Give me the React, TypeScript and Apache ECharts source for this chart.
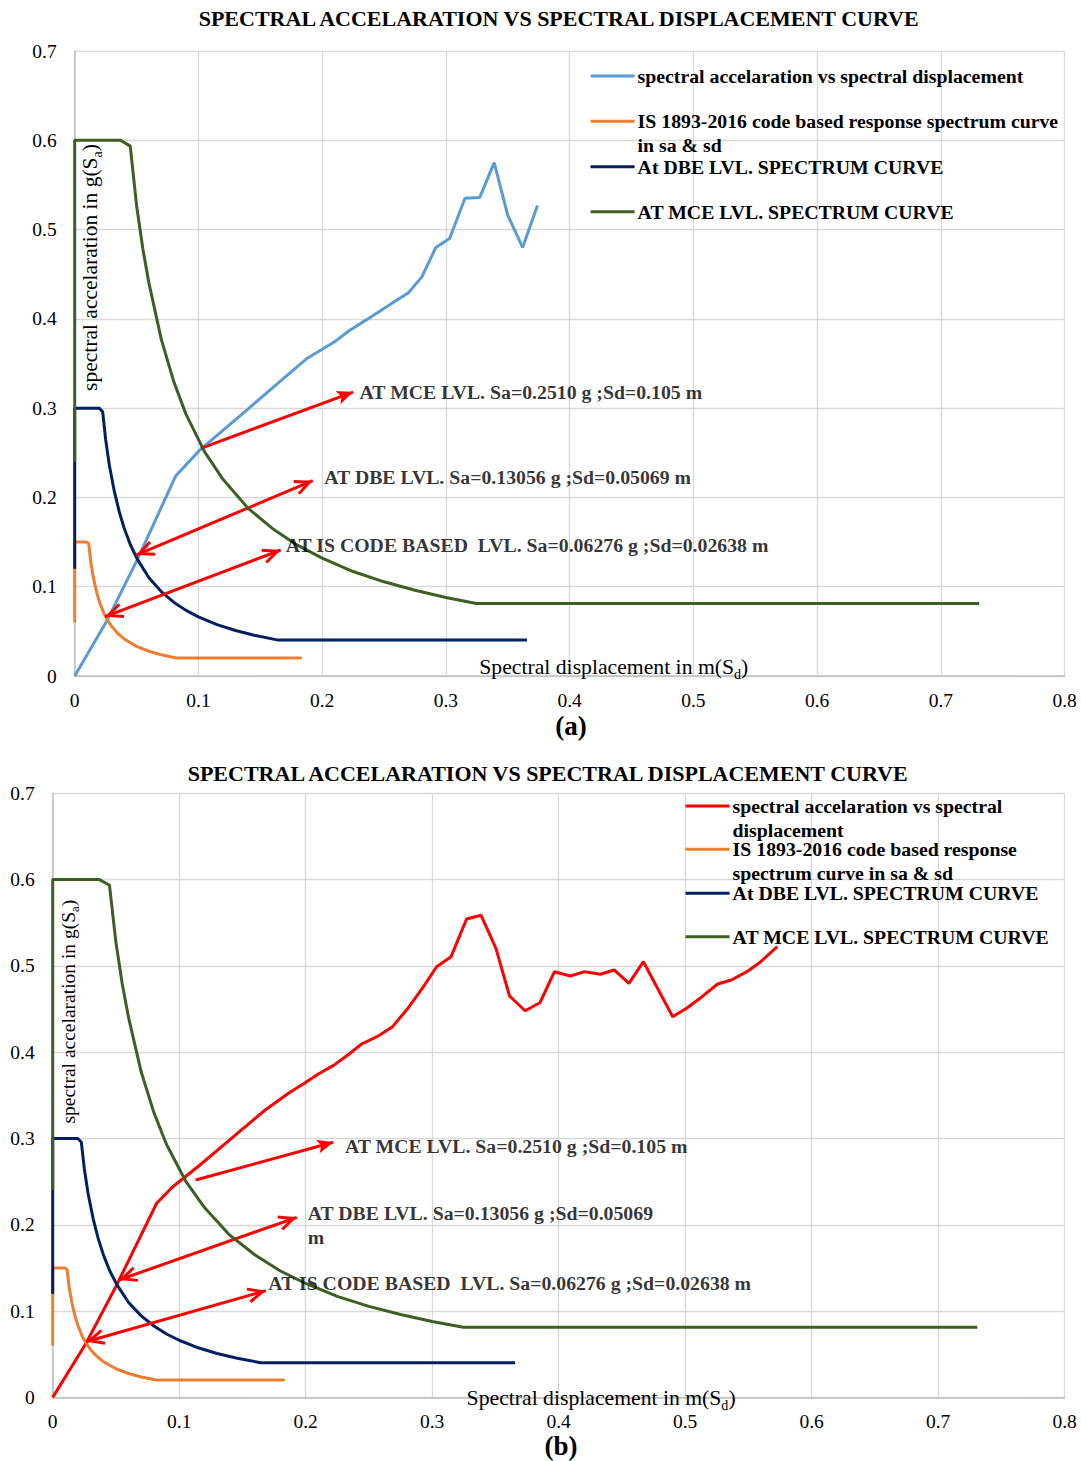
import React, { useEffect, useRef } from "react";
import * as echarts from "echarts";

type Pt = [number, number];

const FONT = "'Liberation Serif', 'Times New Roman', serif";

// ---------- data ----------
const TITLE = "SPECTRAL ACCELARATION VS SPECTRAL DISPLACEMENT CURVE";

const NAME_CAPACITY = "spectral accelaration vs spectral displacement";
const NAME_IS = "IS 1893-2016 code based response spectrum curve in sa & sd";
const NAME_DBE = "At DBE LVL. SPECTRUM CURVE";
const NAME_MCE = "AT MCE LVL. SPECTRUM CURVE";

// capacity curve, panel (a)
const CAPACITY_A: Pt[] = [
  [0, 0], [0.0264, 0.0628], [0.0507, 0.1306], [0.0816, 0.224], [0.101, 0.253],
  [0.14, 0.299], [0.187, 0.355], [0.2097, 0.374], [0.222, 0.387], [0.2347, 0.398],
  [0.258, 0.419], [0.2695, 0.429], [0.2806, 0.447], [0.2918, 0.48], [0.303, 0.49],
  [0.3154, 0.535], [0.3274, 0.536], [0.339, 0.575], [0.35, 0.516], [0.362, 0.48],
  [0.374, 0.527],
];

// capacity curve, panel (b)
const CAPACITY_B: Pt[] = [
  [0, 0], [0.0264, 0.0628], [0.0507, 0.1306], [0.0822, 0.225], [0.0945, 0.2435],
  [0.1162, 0.269], [0.146, 0.306], [0.168, 0.333], [0.187, 0.353], [0.199, 0.364],
  [0.21, 0.3747], [0.2224, 0.385], [0.2333, 0.3967], [0.2442, 0.4095], [0.2564, 0.418],
  [0.2687, 0.4296], [0.2809, 0.451], [0.2932, 0.476], [0.3035, 0.499], [0.315, 0.5107],
  [0.3272, 0.5543], [0.3387, 0.5586], [0.3504, 0.5204], [0.3612, 0.4651], [0.3735, 0.448],
  [0.3852, 0.4573], [0.3967, 0.4933], [0.4092, 0.4883], [0.4207, 0.4933], [0.433, 0.4903],
  [0.4439, 0.4953], [0.4556, 0.4798], [0.467, 0.5049], [0.4902, 0.4411], [0.5012, 0.4509],
  [0.5134, 0.4643], [0.5257, 0.479], [0.5366, 0.4837], [0.5489, 0.4933], [0.5598, 0.5049],
  [0.5729, 0.5223],
];

// IS 1893-2016 code spectrum
const IS_CURVE: Pt[] = [
  [0, 0.06], [0, 0.15], [0.0097, 0.15], [0.0114, 0.148], [0.013, 0.128], [0.015, 0.111],
  [0.0175, 0.095], [0.02, 0.083], [0.0235, 0.0705], [0.0264, 0.0628], [0.03, 0.0553],
  [0.035, 0.0474], [0.04, 0.0415], [0.05, 0.0332], [0.06, 0.0277], [0.07, 0.0237],
  [0.082, 0.0202], [0.1835, 0.0202],
];

// DBE level spectrum
const DBE_CURVE: Pt[] = [
  [0, 0.12], [0, 0.3], [0.0198, 0.3], [0.0226, 0.296], [0.025, 0.265], [0.028, 0.236],
  [0.032, 0.207], [0.036, 0.184], [0.04, 0.1655], [0.045, 0.147], [0.0507, 0.1306],
  [0.06, 0.11], [0.07, 0.0945], [0.08, 0.0827], [0.09, 0.0735], [0.1, 0.0662],
  [0.115, 0.0575], [0.13, 0.0509], [0.145, 0.0456], [0.1645, 0.0402], [0.3655, 0.0402],
];

// MCE level spectrum
const MCE_CURVE: Pt[] = [
  [0, 0.24], [0, 0.6], [0.037, 0.6], [0.0449, 0.5935], [0.05, 0.527], [0.055, 0.479],
  [0.06, 0.44], [0.07, 0.377], [0.08, 0.33], [0.09, 0.293], [0.105, 0.251], [0.12, 0.22],
  [0.14, 0.188], [0.16, 0.165], [0.18, 0.1465], [0.2, 0.132], [0.225, 0.117],
  [0.25, 0.1055], [0.275, 0.096], [0.3, 0.088], [0.3246, 0.0812], [0.731, 0.0812],
];

const TEXT_MCE = "AT MCE LVL. Sa=0.2510 g ;Sd=0.105 m";
const TEXT_DBE = "AT DBE LVL. Sa=0.13056 g ;Sd=0.05069 m";
const TEXT_DBE_B = "AT DBE LVL. Sa=0.13056 g ;Sd=0.05069\nm";
const TEXT_IS = "AT IS CODE BASED  LVL. Sa=0.06276 g ;Sd=0.02638 m";

// ---------- annotation anchors (data coordinates) ----------
type Ann = { text: string; at: Pt; from: Pt; to: Pt; both: boolean };

const ANN_A: Ann[] = [
  { text: TEXT_MCE, at: [0.2298, 0.3177], from: [0.102, 0.255], to: [0.225, 0.318], both: false },
  { text: TEXT_DBE, at: [0.2013, 0.2232], from: [0.0496, 0.1355], to: [0.1924, 0.2187], both: true },
  { text: TEXT_IS, at: [0.1701, 0.1467], from: [0.0245, 0.0664], to: [0.1665, 0.1411], both: true },
];

const ANN_B: Ann[] = [
  { text: TEXT_MCE, at: [0.2306, 0.2917], from: [0.113, 0.2519], to: [0.2218, 0.2956], both: false },
  { text: TEXT_DBE_B, at: [0.2012, 0.1998], from: [0.0523, 0.136], to: [0.193, 0.2087], both: true },
  { text: TEXT_IS, at: [0.1701, 0.1322], from: [0.0264, 0.0645], to: [0.1685, 0.1237], both: true },
];

// ---------- styles ----------
const CHEVRON = "path://M8,-18.5 M8,0 L16,17.2 L13.3,18.5 L8,7.1 L2.7,18.5 L0,17.2 Z";
const TRIANGLE = "path://M7,-16 M7,0 L14,16 L7,12.5 L0,16 Z";
const TEXT_SIZE = 19.8;

type Panel = {
  capacity: Pt[];
  capColor: string;
  capLabel: string;
  isLabel: string;
  ann: Ann[];
  grid: { left: number; top: number; width: number; height: number };
  titleLeft: number;
  titleY: number;
  legendLeft: number;
  legendY: number[];
  xName: { x: number; y: number; size: number };
  yName: { x: number; y: number; size: number };
  panelLabel: { text: string; x: number; y: number };
};

const PANEL_A: Panel = {
  capacity: CAPACITY_A,
  capColor: "#5B9BD5",
  capLabel: NAME_CAPACITY,
  isLabel: "IS 1893-2016 code based response spectrum curve\nin sa & sd",
  ann: ANN_A,
  grid: { left: 74.7, top: 51, width: 989.9, height: 625 },
  titleLeft: 198.7,
  titleY: 18.8,
  legendLeft: 590.6,
  legendY: [76, 121.3, 166.7, 211.7],
  xName: { x: 479.3, y: 666.7, size: 21.7 },
  yName: { x: 90, y: 267.5, size: 21.5 },
  panelLabel: { text: "(a)", x: 571, y: 726 },
};

const PANEL_B: Panel = {
  capacity: CAPACITY_B,
  capColor: "#FF0000",
  capLabel: "spectral accelaration vs spectral\ndisplacement",
  isLabel: "IS 1893-2016 code based response\nspectrum curve in sa & sd",
  ann: ANN_B,
  grid: { left: 52.7, top: 48.3, width: 1011.9, height: 604.1 },
  titleLeft: 187.7,
  titleY: 28.3,
  legendLeft: 685.6,
  legendY: [61, 104.3, 148.3, 191.7],
  xName: { x: 466.6, y: 652.7, size: 21.7 },
  yName: { x: 68, y: 266.7, size: 19.5 },
  panelLabel: { text: "(b)", x: 561, y: 701 },
};

function lineSeries(name: string, data: Pt[], color: string, z: number) {
  return {
    type: "line",
    name,
    data,
    showSymbol: false,
    symbol: "none",
    clip: false,
    silent: true,
    z,
    lineStyle: { color, width: 3 },
    itemStyle: { color },
    emphasis: { disabled: true },
  };
}

function richName(main: string, sub: string, tail: string, size: number) {
  return {
    text: `{n|${main}}{s|${sub}}{n|${tail}}`,
    rich: {
      n: { fontSize: size, fontFamily: FONT, lineHeight: size + 7, fill: "#000" },
      s: { fontSize: size * 0.65, fontFamily: FONT, lineHeight: size * 0.75, verticalAlign: "bottom", fill: "#000" },
    },
    fill: "#000",
  };
}

function buildOption(p: Panel) {
  const LH = 23.5;
  const legendItems = [
    { name: NAME_CAPACITY, label: p.capLabel },
    { name: NAME_IS, label: p.isLabel },
    { name: NAME_DBE, label: NAME_DBE },
    { name: NAME_MCE, label: NAME_MCE },
  ];
  const legends = legendItems.map((it, i) => {
    const lines = it.label.split("\n").length;
    // a blank leading line for wrapped labels keeps the icon level with the first line
    const shown = lines > 1 ? " \n" + it.label : it.label;
    const total = lines > 1 ? lines + 1 : 1;
    const H = total * LH;
    return {
      data: [it.name],
      left: p.legendLeft,
      top: p.legendY[i] - H / 2,
      orient: "vertical",
      padding: 0,
      icon: "rect",
      itemWidth: 44,
      itemHeight: 3,
      selectedMode: false,
      formatter: () => shown,
      textStyle: {
        fontFamily: FONT,
        fontWeight: "bold",
        fontSize: TEXT_SIZE,
        lineHeight: LH,
        color: "#000",
        padding: [0, 0, 0, -2],
      },
    };
  });

  const axisCommon = {
    type: "value",
    min: 0,
    interval: 0.1,
    axisTick: { show: false },
    axisLine: { show: true, onZero: false, lineStyle: { color: "#bfbfbf", width: 1.5 } },
    splitLine: { show: true, lineStyle: { color: "#d9d9d9", width: 1.3 } },
  };

  return {
    animation: false,
    backgroundColor: "#fff",
    title: {
      text: TITLE,
      left: p.titleLeft,
      top: p.titleY - 11,
      padding: 0,
      textStyle: { fontFamily: FONT, fontWeight: "bold", fontSize: 22, lineHeight: 22, color: "#000" },
    },
    legend: legends,
    grid: { ...p.grid, containLabel: false },
    xAxis: {
      ...axisCommon,
      max: 0.8,
      axisLabel: { fontFamily: FONT, fontSize: 19.5, color: "#000", margin: 14.5 },
    },
    yAxis: {
      ...axisCommon,
      max: 0.7,
      axisLabel: { fontFamily: FONT, fontSize: 19.5, color: "#000", margin: 18 },
    },
    graphic: [
      {
        type: "text",
        x: p.xName.x,
        y: p.xName.y,
        z: 20,
        style: { ...richName("Spectral displacement in m(S", "d", ")", p.xName.size), align: "left", verticalAlign: "middle" },
      },
      {
        type: "text",
        x: p.yName.x,
        y: p.yName.y,
        rotation: Math.PI / 2,
        z: 20,
        style: { ...richName("spectral accelaration in g(S", "a", ")", p.yName.size), align: "center", verticalAlign: "middle" },
      },
      {
        type: "text",
        x: p.panelLabel.x,
        y: p.panelLabel.y,
        z: 20,
        style: {
          text: p.panelLabel.text,
          fontFamily: FONT,
          fontWeight: "bold",
          fontSize: 27,
          fill: "#000",
          align: "center",
          verticalAlign: "middle",
        },
      },
    ],
    series: [
      lineSeries(NAME_CAPACITY, p.capacity, p.capColor, 2),
      lineSeries(NAME_IS, IS_CURVE, "#ED7D31", 3),
      lineSeries(NAME_DBE, DBE_CURVE, "#002060", 4),
      lineSeries(NAME_MCE, MCE_CURVE, "#3E5F24", 5),
      {
        type: "scatter",
        name: "annotations",
        silent: true,
        z: 8,
        symbolSize: 1,
        itemStyle: { color: "transparent" },
        data: p.ann.map((a) => ({ value: a.at, name: a.text })),
        label: {
          show: true,
          position: "right",
          distance: 0,
          formatter: "{b}",
          fontFamily: FONT,
          fontWeight: "bold",
          fontSize: TEXT_SIZE,
          lineHeight: 23.5,
          color: "#000",
          align: "left",
        },
        markLine: {
          silent: true,
          animation: false,
          label: { show: false },
          emphasis: { disabled: true },
          itemStyle: { color: "#ff0000" },
          lineStyle: { color: "#ff0000", width: 3, type: "solid" },
          data: p.ann.map((a) => [
            { coord: a.from, symbol: a.both ? CHEVRON : "none", symbolSize: [16, 37] },
            {
              coord: a.to,
              symbol: a.both ? CHEVRON : TRIANGLE,
              symbolSize: a.both ? [16, 37] : [14, 32],
            },
          ]),
        },
      },
    ],
  };
}

export default function App() {
  const refA = useRef<HTMLDivElement>(null);
  const refB = useRef<HTMLDivElement>(null);

  useEffect(() => {
    const pairs: [HTMLDivElement | null, Panel][] = [
      [refA.current, PANEL_A],
      [refB.current, PANEL_B],
    ];
    const charts = pairs.map(([el, p]) => {
      const c = echarts.init(el as HTMLDivElement, null, { renderer: "svg" });
      c.setOption(buildOption(p) as any);
      return c;
    });
    return () => charts.forEach((c) => c.dispose());
  }, []);

  return (
    <div style={{ position: "absolute", left: 0, top: 0, width: 1081, height: 1461, background: "#fff" }}>
      <div ref={refA} style={{ position: "absolute", left: 0, top: 0, width: 1081, height: 745 }} />
      <div ref={refB} style={{ position: "absolute", left: 0, top: 745, width: 1081, height: 716 }} />
    </div>
  );
}
